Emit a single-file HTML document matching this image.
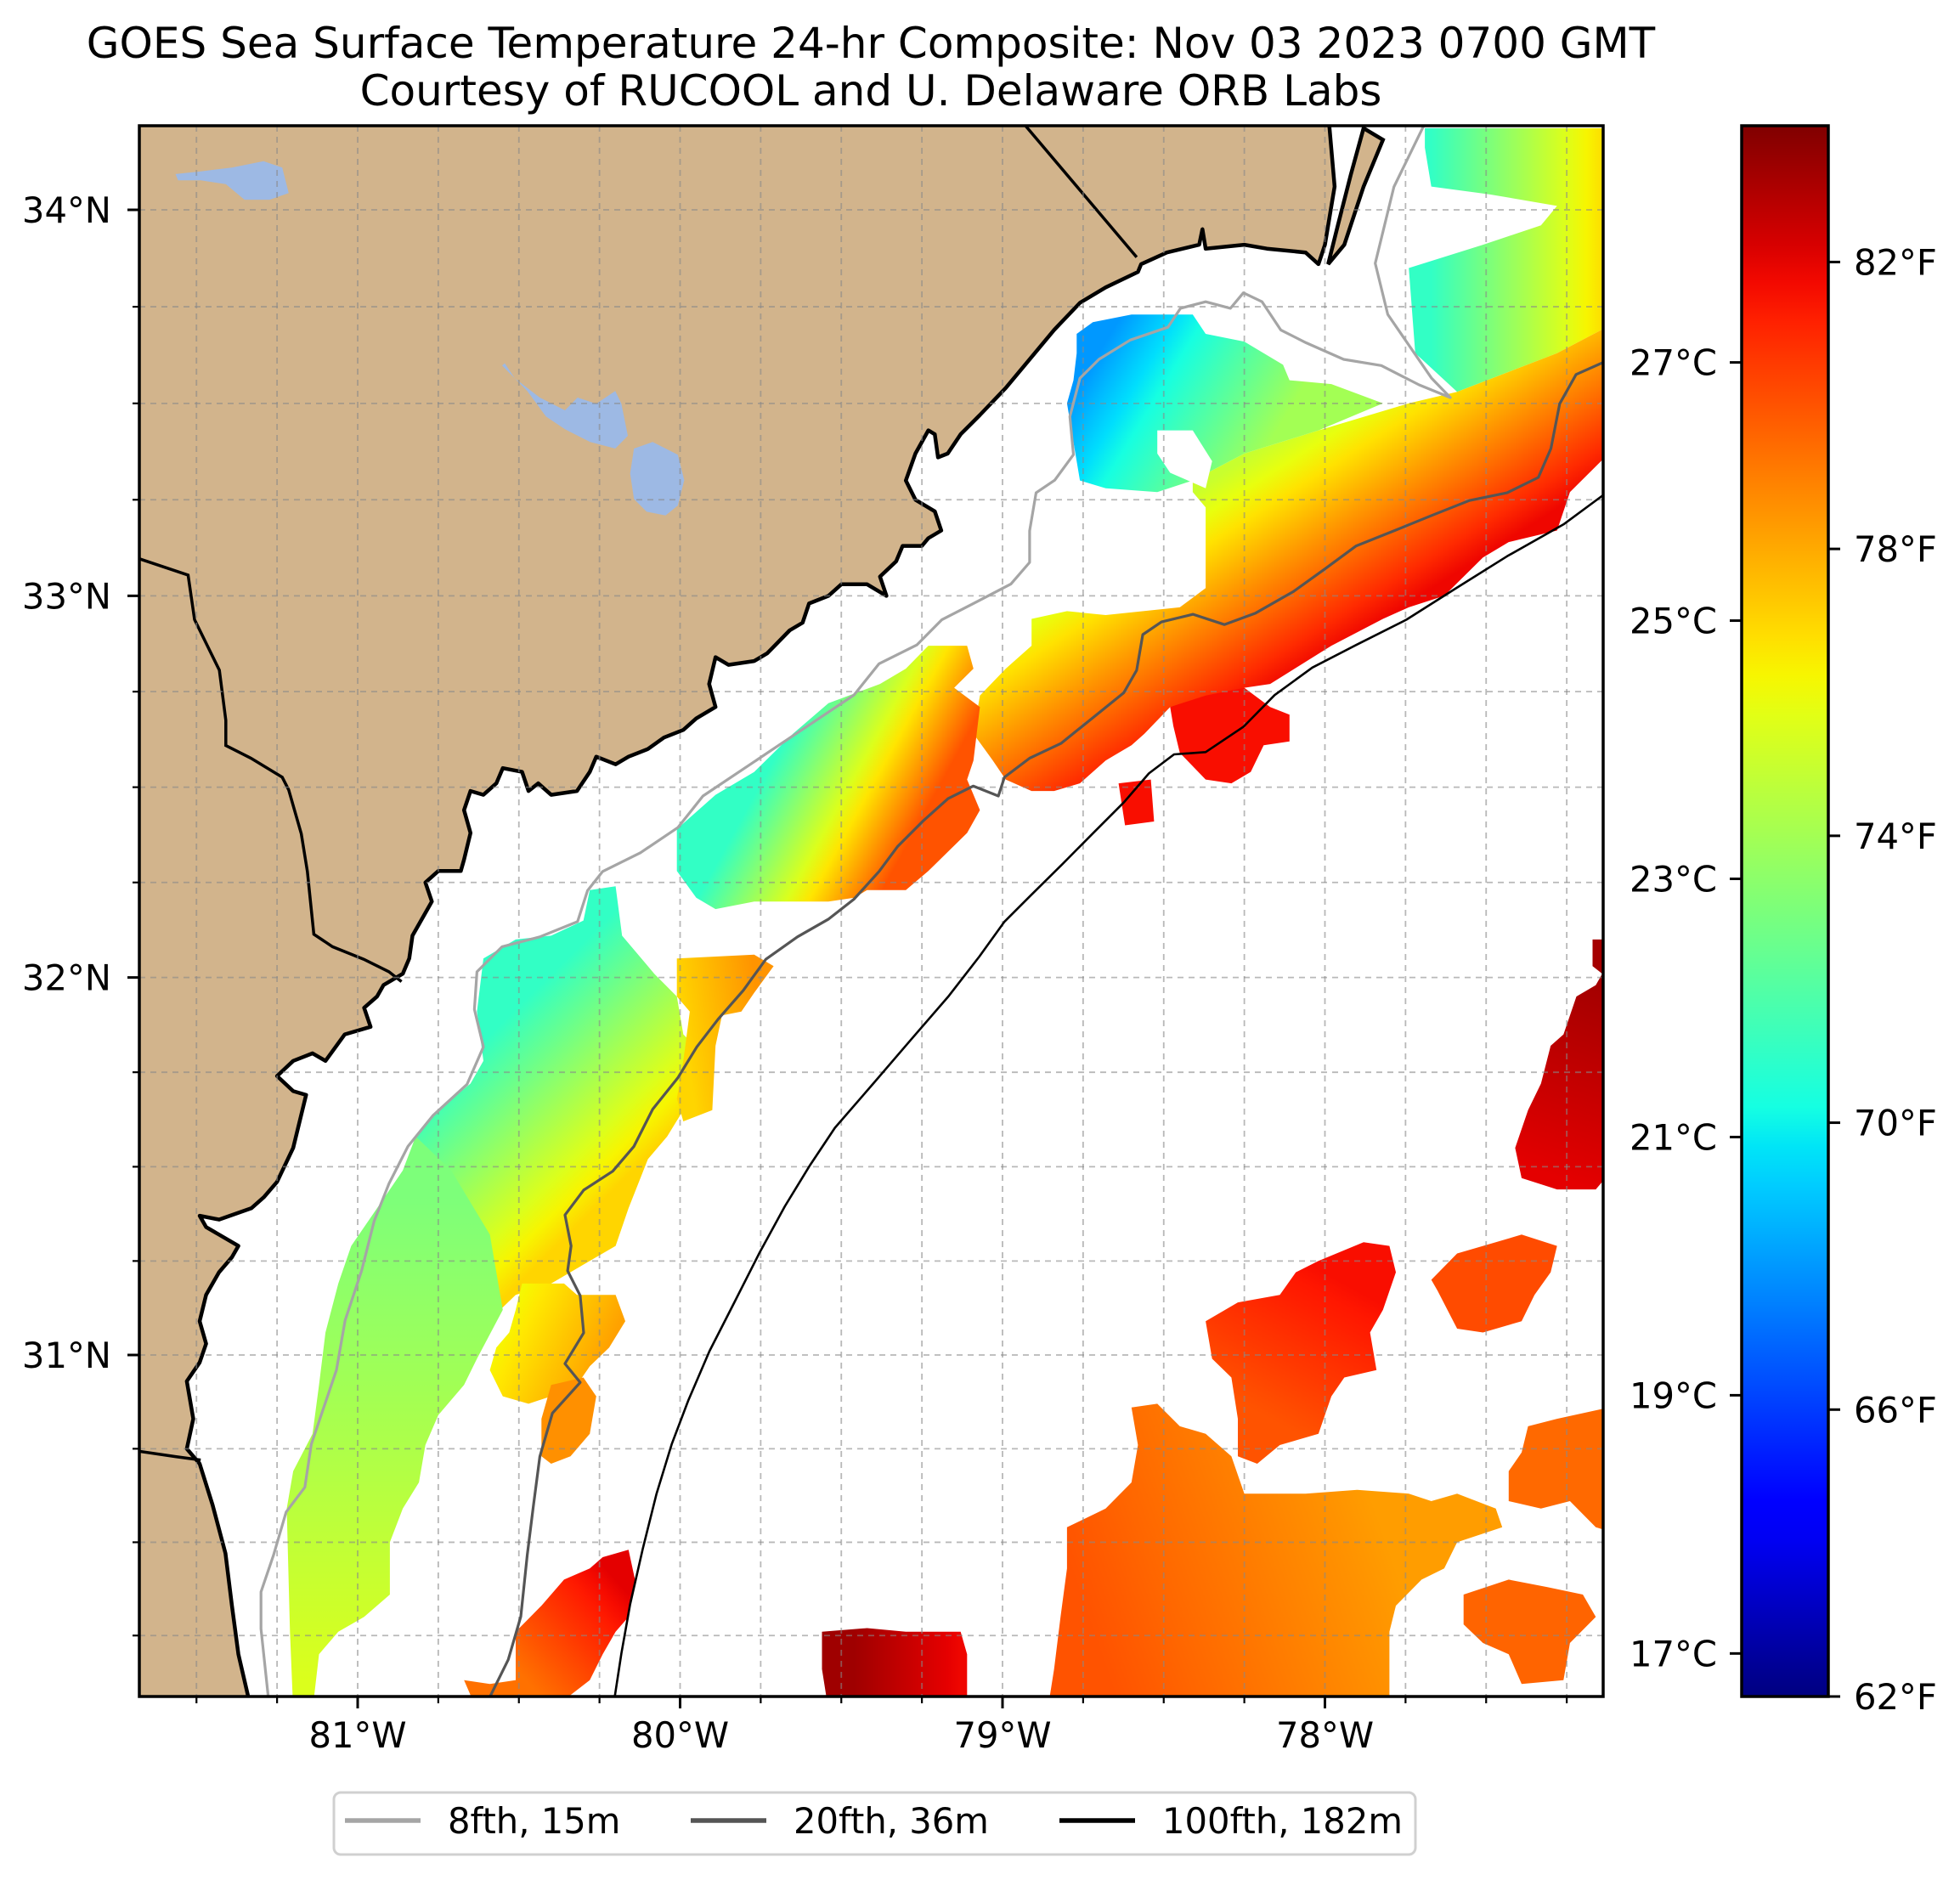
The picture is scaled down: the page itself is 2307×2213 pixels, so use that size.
<!DOCTYPE html>
<html><head><meta charset="utf-8">
<style>
html,body{margin:0;padding:0;background:#fff;}
svg{display:block;font-family:"DejaVu Sans","Liberation Sans",sans-serif;}
</style></head>
<body>
<svg id="chart" xmlns="http://www.w3.org/2000/svg" width="2307" height="2213" viewBox="0 0 2307 2213">
<rect x="0" y="0" width="2307" height="2213" fill="#fff"/>
<text x="1025" y="68" font-size="50" text-anchor="middle">GOES Sea Surface Temperature 24-hr Composite: Nov 03 2023 0700 GMT</text>
<text x="1025" y="124" font-size="50" text-anchor="middle">Courtesy of RUCOOL and U. Delaware ORB Labs</text>
<defs id="defs"><clipPath id="mapclip"><rect x="164" y="148" width="1723" height="1849"/></clipPath></defs>
<g id="map" clip-path="url(#mapclip)"></g>
<g id="axes"></g>
<g id="cbar"></g>
<g id="legend"></g>
</svg>
<script>
// ---------- data ----------
const lonTicks = [-81, -80, -79, -78];
const latTicks = [31, 32, 33, 34];
const fTicks = [62, 66, 70, 74, 78, 82];
const cTicks = [17, 19, 21, 23, 25, 27];
const cbarMinF = 62, cbarMaxF = 83.9;

const coast = [[-81.70,34.25],[-77.99,34.25],[-77.97,34.06],[-78.00,33.91],[-78.02,33.86],[-78.06,33.89],[-78.18,33.90],[-78.25,33.91],[-78.37,33.90],[-78.38,33.95],[-78.39,33.91],[-78.49,33.89],[-78.57,33.86],[-78.58,33.84],[-78.68,33.80],[-78.76,33.76],[-78.84,33.69],[-78.92,33.61],[-78.99,33.54],[-79.07,33.47],[-79.13,33.42],[-79.17,33.37],[-79.20,33.36],[-79.21,33.42],[-79.23,33.43],[-79.27,33.37],[-79.30,33.30],[-79.27,33.25],[-79.21,33.22],[-79.19,33.17],[-79.23,33.15],[-79.25,33.13],[-79.31,33.13],[-79.33,33.09],[-79.38,33.05],[-79.36,33.00],[-79.42,33.03],[-79.50,33.03],[-79.54,33.00],[-79.60,32.98],[-79.62,32.93],[-79.66,32.91],[-79.73,32.85],[-79.77,32.83],[-79.85,32.82],[-79.89,32.84],[-79.91,32.77],[-79.89,32.71],[-79.95,32.68],[-79.99,32.65],[-80.05,32.63],[-80.10,32.60],[-80.16,32.58],[-80.20,32.56],[-80.26,32.58],[-80.28,32.54],[-80.32,32.49],[-80.40,32.48],[-80.44,32.51],[-80.47,32.49],[-80.49,32.54],[-80.55,32.55],[-80.57,32.51],[-80.61,32.48],[-80.65,32.49],[-80.67,32.44],[-80.65,32.38],[-80.67,32.31],[-80.68,32.28],[-80.75,32.28],[-80.79,32.25],[-80.77,32.20],[-80.83,32.11],[-80.84,32.05],[-80.86,32.01],[-80.92,31.98],[-80.94,31.95],[-80.98,31.92],[-80.96,31.87],[-81.04,31.85],[-81.10,31.78],[-81.14,31.80],[-81.20,31.78],[-81.25,31.74],[-81.20,31.70],[-81.16,31.69],[-81.18,31.62],[-81.20,31.55],[-81.25,31.46],[-81.29,31.42],[-81.33,31.39],[-81.43,31.36],[-81.49,31.37],[-81.47,31.34],[-81.37,31.29],[-81.39,31.26],[-81.43,31.22],[-81.47,31.16],[-81.49,31.09],[-81.47,31.03],[-81.49,30.98],[-81.53,30.93],[-81.51,30.83],[-81.53,30.75],[-81.49,30.71],[-81.45,30.60],[-81.41,30.47],[-81.39,30.33],[-81.37,30.20],[-81.33,30.05],[-81.70,30.05]];
const barrierIsland = [[-77.88,34.21],[-77.92,34.09],[-77.96,33.96],[-77.99,33.86],[-77.94,33.91],[-77.88,34.06],[-77.82,34.18]];
const lakes = [
 [[-80.552,33.598],[-80.474,33.532],[-80.416,33.466],[-80.357,33.433],[-80.279,33.400],[-80.201,33.383],[-80.162,33.416],[-80.182,33.499],[-80.201,33.532],[-80.260,33.499],[-80.318,33.515],[-80.357,33.482],[-80.435,33.515],[-80.513,33.565],[-80.544,33.604]],
 [[-80.143,33.383],[-80.085,33.400],[-80.007,33.367],[-79.987,33.301],[-80.007,33.235],[-80.045,33.209],[-80.104,33.219],[-80.143,33.252],[-80.155,33.318]],
 [[-81.565,34.092],[-81.487,34.099],[-81.390,34.109],[-81.292,34.125],[-81.234,34.109],[-81.214,34.043],[-81.273,34.026],[-81.351,34.026],[-81.409,34.066],[-81.487,34.076],[-81.557,34.076]]
];
const borderNCSC = [[-78.963,34.25],[-78.584,33.878]];
const borderSCGA = [[-81.70,33.103],[-81.526,33.054],[-81.506,32.938],[-81.429,32.806],[-81.409,32.675],[-81.409,32.609],[-81.331,32.576],[-81.234,32.526],[-81.214,32.493],[-81.175,32.378],[-81.156,32.279],[-81.136,32.114],[-81.078,32.081],[-80.981,32.048],[-80.903,32.015],[-80.864,31.989]];
const borderGAFL = [[-81.70,30.746],[-81.565,30.729],[-81.487,30.72]];

const iso8 = [[-77.689,34.224],[-77.786,34.059],[-77.844,33.862],[-77.805,33.730],[-77.669,33.565],[-77.611,33.515],[-77.708,33.548],[-77.825,33.598],[-77.942,33.614],[-78.059,33.657],[-78.137,33.690],[-78.195,33.763],[-78.253,33.786],[-78.293,33.746],[-78.370,33.763],[-78.448,33.746],[-78.487,33.697],[-78.604,33.664],[-78.701,33.614],[-78.760,33.565],[-78.791,33.466],[-78.780,33.367],[-78.838,33.301],[-78.896,33.268],[-78.916,33.169],[-78.916,33.087],[-78.974,33.031],[-79.072,32.988],[-79.188,32.938],[-79.266,32.872],[-79.383,32.823],[-79.461,32.741],[-79.578,32.675],[-79.695,32.609],[-79.812,32.543],[-79.929,32.477],[-80.007,32.394],[-80.123,32.328],[-80.240,32.279],[-80.287,32.229],[-80.318,32.147],[-80.435,32.107],[-80.552,32.081],[-80.630,32.015],[-80.638,31.916],[-80.610,31.817],[-80.661,31.718],[-80.766,31.636],[-80.844,31.554],[-80.903,31.455],[-80.949,31.356],[-80.988,31.224],[-81.039,31.092],[-81.066,30.960],[-81.105,30.861],[-81.144,30.762],[-81.164,30.647],[-81.222,30.581],[-81.261,30.466],[-81.300,30.367],[-81.300,30.268],[-81.273,30.05]];
const iso20 = [[-77.116,33.614],[-77.221,33.575],[-77.272,33.499],[-77.299,33.383],[-77.338,33.308],[-77.435,33.268],[-77.552,33.248],[-77.669,33.209],[-77.786,33.169],[-77.903,33.130],[-78.0,33.070],[-78.098,33.011],[-78.215,32.955],[-78.312,32.925],[-78.409,32.952],[-78.507,32.932],[-78.565,32.899],[-78.584,32.806],[-78.624,32.747],[-78.721,32.681],[-78.818,32.615],[-78.916,32.576],[-78.994,32.526],[-79.013,32.477],[-79.091,32.503],[-79.169,32.470],[-79.247,32.411],[-79.325,32.345],[-79.383,32.279],[-79.461,32.206],[-79.539,32.154],[-79.636,32.107],[-79.734,32.048],[-79.804,31.966],[-79.882,31.890],[-79.948,31.817],[-80.007,31.735],[-80.085,31.652],[-80.143,31.554],[-80.209,31.488],[-80.299,31.438],[-80.357,31.372],[-80.338,31.290],[-80.349,31.224],[-80.310,31.158],[-80.299,31.059],[-80.357,30.977],[-80.310,30.927],[-80.396,30.845],[-80.435,30.729],[-80.455,30.597],[-80.474,30.466],[-80.494,30.301],[-80.533,30.185],[-80.610,30.05]];
const iso100 = [[-77.116,33.275],[-77.260,33.186],[-77.435,33.103],[-77.591,33.021],[-77.747,32.938],[-77.903,32.872],[-78.039,32.813],[-78.156,32.741],[-78.253,32.658],[-78.370,32.592],[-78.468,32.586],[-78.546,32.536],[-78.624,32.460],[-78.721,32.378],[-78.818,32.295],[-78.916,32.213],[-78.994,32.147],[-79.072,32.055],[-79.169,31.949],[-79.286,31.834],[-79.403,31.718],[-79.520,31.603],[-79.597,31.504],[-79.675,31.395],[-79.753,31.273],[-79.831,31.141],[-79.909,31.010],[-79.975,30.878],[-80.026,30.762],[-80.073,30.630],[-80.116,30.482],[-80.155,30.334],[-80.182,30.202],[-80.209,30.05]];

const patchNames = ['ne-top','main-band','cool-pool','cool-gap','mid-band','ga-upper','ga-lower','orange-32n','yellow-31n','orange-31n','red-sw','darkred-bottom','orange-se','orange-east-a','orange-east-b','red-east','orange-red-east','darkred-right','red-shelf-a','red-shelf-b'];
const patchOutlines = [
 [[-77.69,34.21],[-77.12,34.21],[-77.12,33.70],[-77.28,33.63],[-77.59,33.53],[-77.72,33.63],[-77.74,33.85],[-77.51,33.91],[-77.33,33.96],[-77.28,34.01],[-77.49,34.04],[-77.67,34.06],[-77.69,34.16]],
 [[-77.12,33.70],[-77.12,33.37],[-77.24,33.27],[-77.28,33.17],[-77.43,33.14],[-77.51,33.10],[-77.63,33.00],[-77.74,32.97],[-77.82,32.94],[-77.98,32.87],[-78.17,32.77],[-78.25,32.76],[-78.37,32.72],[-78.48,32.71],[-78.56,32.64],[-78.60,32.61],[-78.68,32.57],[-78.76,32.51],[-78.84,32.49],[-78.91,32.49],[-78.99,32.52],[-79.03,32.57],[-79.09,32.64],[-79.07,32.74],[-78.99,32.81],[-78.91,32.87],[-78.91,32.94],[-78.80,32.96],[-78.68,32.95],[-78.45,32.97],[-78.37,33.02],[-78.37,33.23],[-78.41,33.27],[-78.41,33.30],[-78.25,33.37],[-78.02,33.43],[-77.74,33.50],[-77.59,33.53],[-77.28,33.63]],
 [[-78.77,33.68],[-78.72,33.71],[-78.60,33.73],[-78.41,33.73],[-78.37,33.68],[-78.25,33.66],[-78.19,33.63],[-78.13,33.60],[-78.11,33.56],[-77.98,33.55],[-77.82,33.50],[-78.02,33.43],[-78.25,33.37],[-78.41,33.30],[-78.52,33.27],[-78.68,33.28],[-78.76,33.30],[-78.78,33.40],[-78.80,33.50],[-78.78,33.56],[-78.77,33.63]],
 [[-78.52,33.43],[-78.41,33.43],[-78.35,33.35],[-78.37,33.28],[-78.48,33.32],[-78.52,33.37]],
 [[-80.01,32.39],[-79.89,32.48],[-79.77,32.54],[-79.65,32.64],[-79.54,32.72],[-79.38,32.77],[-79.30,32.81],[-79.23,32.87],[-79.11,32.87],[-79.09,32.81],[-79.15,32.76],[-79.07,32.71],[-79.09,32.57],[-79.11,32.52],[-79.07,32.44],[-79.11,32.38],[-79.23,32.28],[-79.30,32.23],[-79.42,32.23],[-79.46,32.21],[-79.54,32.20],[-79.77,32.20],[-79.89,32.18],[-79.95,32.21],[-80.01,32.28]],
 [[-80.61,32.05],[-80.51,32.10],[-80.40,32.11],[-80.30,32.15],[-80.28,32.23],[-80.20,32.24],[-80.18,32.11],[-80.08,32.01],[-80.01,31.95],[-79.99,31.85],[-79.93,31.80],[-79.91,31.68],[-79.99,31.65],[-80.04,31.58],[-80.10,31.52],[-80.16,31.39],[-80.20,31.29],[-80.28,31.25],[-80.40,31.19],[-80.51,31.16],[-80.57,31.11],[-80.65,31.12],[-80.82,31.25],[-80.86,31.39],[-80.82,31.58],[-80.75,31.65],[-80.65,31.72],[-80.61,31.78],[-80.63,31.91]],
 [[-80.82,31.58],[-80.71,31.49],[-80.59,31.32],[-80.55,31.12],[-80.63,30.99],[-80.67,30.92],[-80.75,30.84],[-80.79,30.76],[-80.81,30.66],[-80.86,30.59],[-80.90,30.50],[-80.90,30.36],[-80.98,30.30],[-81.06,30.26],[-81.12,30.20],[-81.14,30.05],[-81.20,30.05],[-81.21,30.26],[-81.22,30.59],[-81.20,30.69],[-81.14,30.79],[-81.12,30.92],[-81.10,31.06],[-81.06,31.19],[-81.02,31.29],[-80.94,31.39],[-80.86,31.49]],
 [[-80.01,32.05],[-79.77,32.06],[-79.71,32.03],[-79.77,31.96],[-79.81,31.91],[-79.87,31.90],[-79.89,31.82],[-79.90,31.65],[-79.99,31.62],[-80.01,31.68],[-79.99,31.78],[-79.97,31.91],[-80.01,31.95]],
 [[-80.49,31.19],[-80.36,31.19],[-80.32,31.16],[-80.20,31.16],[-80.17,31.09],[-80.22,31.02],[-80.28,30.97],[-80.32,30.92],[-80.40,30.89],[-80.47,30.87],[-80.55,30.89],[-80.59,30.96],[-80.57,31.02],[-80.53,31.06],[-80.51,31.12]],
 [[-80.40,30.92],[-80.30,30.94],[-80.26,30.89],[-80.28,30.79],[-80.34,30.73],[-80.40,30.71],[-80.43,30.73],[-80.43,30.83]],
 [[-80.24,30.46],[-80.16,30.48],[-80.14,30.40],[-80.16,30.30],[-80.20,30.26],[-80.24,30.20],[-80.28,30.13],[-80.40,30.05],[-80.63,30.05],[-80.67,30.13],[-80.59,30.12],[-80.51,30.13],[-80.51,30.26],[-80.43,30.33],[-80.36,30.40],[-80.28,30.43]],
 [[-79.56,30.26],[-79.42,30.27],[-79.30,30.26],[-79.23,30.26],[-79.13,30.26],[-79.11,30.20],[-79.11,30.05],[-79.54,30.05],[-79.56,30.16]],
 [[-78.60,30.86],[-78.52,30.87],[-78.45,30.81],[-78.37,30.79],[-78.29,30.73],[-78.25,30.63],[-78.06,30.63],[-77.90,30.64],[-77.74,30.63],[-77.67,30.61],[-77.59,30.63],[-77.47,30.59],[-77.45,30.54],[-77.59,30.50],[-77.63,30.43],[-77.70,30.40],[-77.78,30.33],[-77.80,30.26],[-77.80,30.05],[-78.86,30.05],[-78.84,30.16],[-78.82,30.30],[-78.80,30.43],[-78.80,30.54],[-78.68,30.59],[-78.60,30.66],[-78.58,30.76]],
 [[-77.37,30.81],[-77.28,30.83],[-77.12,30.86],[-77.12,30.53],[-77.16,30.54],[-77.24,30.61],[-77.33,30.59],[-77.43,30.61],[-77.43,30.69],[-77.39,30.74]],
 [[-77.57,30.36],[-77.43,30.40],[-77.31,30.38],[-77.20,30.36],[-77.16,30.30],[-77.24,30.23],[-77.26,30.13],[-77.39,30.12],[-77.43,30.20],[-77.51,30.23],[-77.57,30.28]],
 [[-78.02,31.25],[-77.88,31.30],[-77.80,31.29],[-77.78,31.22],[-77.82,31.12],[-77.86,31.06],[-77.84,30.96],[-77.94,30.94],[-77.98,30.89],[-78.02,30.79],[-78.14,30.76],[-78.21,30.71],[-78.27,30.73],[-78.27,30.83],[-78.29,30.94],[-78.35,30.99],[-78.37,31.09],[-78.27,31.14],[-78.14,31.16],[-78.09,31.22]],
 [[-77.59,31.27],[-77.47,31.30],[-77.39,31.32],[-77.28,31.29],[-77.30,31.22],[-77.35,31.16],[-77.39,31.09],[-77.51,31.06],[-77.59,31.07],[-77.65,31.17],[-77.67,31.20]],
 [[-77.17,32.10],[-77.11,32.10],[-77.11,31.49],[-77.16,31.44],[-77.28,31.44],[-77.39,31.47],[-77.41,31.55],[-77.37,31.65],[-77.33,31.72],[-77.30,31.82],[-77.26,31.85],[-77.22,31.95],[-77.16,31.98],[-77.14,32.01],[-77.17,32.03]],
 [[-78.48,32.71],[-78.37,32.74],[-78.25,32.76],[-78.17,32.71],[-78.11,32.69],[-78.11,32.62],[-78.19,32.61],[-78.23,32.54],[-78.29,32.51],[-78.37,32.52],[-78.45,32.59],[-78.47,32.66]],
 [[-78.64,32.51],[-78.54,32.52],[-78.53,32.41],[-78.62,32.40]]
];
const patchGradStart = [[-77.67,34.13],[-77.98,33.50],[-78.68,33.66],null,[-79.77,32.48],[-80.47,31.95],[-80.94,31.42],[-80.01,31.98],[-80.55,31.12],[-80.40,30.92],[-80.51,30.16],[-79.46,30.20],[-78.72,30.26],[-77.37,30.81],[-77.57,30.36],[-77.94,31.19],[-77.59,31.27],[-77.16,31.98],[-78.48,32.71],[-78.64,32.51]];
const patchGradEnd = [[-77.12,34.13],[-77.63,33.04],[-78.17,33.40],null,[-79.34,32.28],[-80.04,31.58],[-80.94,30.13],[-79.77,32.01],[-80.24,30.99],[-80.28,30.79],[-80.20,30.40],[-79.13,30.20],[-77.82,30.53],[-77.12,30.53],[-77.20,30.13],[-78.17,30.83],[-77.30,31.10],[-77.35,31.49],[-78.11,32.62],[-78.53,32.41]];
const patchTempStart = [71, 75, 68, null, 71, 71, 73, 77, 76, 78.6, 79.3, 83.3, 80, 79.5, 79.6, 81.6, 80.2, 83.2, 81.6, 81.6];
const patchTempEnd   = [77, 81.8, 74, null, 80, 77, 75.5, 78.5, 78.2, 78.6, 82, 81.8, 78.3, 79.5, 79.6, 80, 80.2, 82, 81.6, 81.6];

// ---------- axis functions ----------
const MAP = {x0:164, x1:1887, y0:148, y1:1997};
const lonRef = -81, xRef = 421, pxPerDeg = 379.5;
function merc(lat){ return Math.log(Math.tan(Math.PI/4 + lat*Math.PI/360)); }
const yAt34 = 247, yAt31 = 1595;
const mercK = (yAt31 - yAt34) / (merc(34) - merc(31));
function xOf(lon){ return xRef + (lon - lonRef) * pxPerDeg; }
function yOf(lat){ return yAt34 + (merc(34) - merc(lat)) * mercK; }
const CB = {x0:2050, x1:2152, y0:148, y1:1997};
function yOfF(f){ return CB.y1 - (f - cbarMinF) / (cbarMaxF - cbarMinF) * (CB.y1 - CB.y0); }
function jet(t){
  t = Math.max(0, Math.min(1, t));
  function seg(pts){ for(let i=1;i<pts.length;i++){ if(t<=pts[i][0]){ const a=pts[i-1],b=pts[i]; const u=(t-a[0])/(b[0]-a[0]||1); return a[1]+(b[1]-a[1])*u; } } return pts[pts.length-1][1]; }
  const r=seg([[0,0],[0.35,0],[0.66,1],[0.89,1],[1,0.5]]);
  const g=seg([[0,0],[0.125,0],[0.375,1],[0.64,1],[0.91,0],[1,0]]);
  const b=seg([[0,0.5],[0.11,1],[0.34,1],[0.65,0],[1,0]]);
  return 'rgb('+Math.round(r*255)+','+Math.round(g*255)+','+Math.round(b*255)+')';
}
function colorF(f){ return jet((f - cbarMinF) / (cbarMaxF - cbarMinF)); }

const NS = 'http://www.w3.org/2000/svg';
function mk(tag, attrs, parent){ const e=document.createElementNS(NS, tag); for(const k in attrs) e.setAttribute(k, attrs[k]); parent.appendChild(e); return e; }
function pts(arr){ return arr.map(p => xOf(p[0]).toFixed(1)+','+yOf(p[1]).toFixed(1)).join(' '); }

const map = document.getElementById('map');
const defs = document.getElementById('defs');

const land = mk('polygon', {points: pts(coast), fill:'#d2b48c', stroke:'#000', 'stroke-width':4.5, 'stroke-linejoin':'round'}, map);


const isl = mk('polygon', {points: pts(barrierIsland), fill:'#d2b48c', stroke:'#000', 'stroke-width':4.5}, map);


lakes.forEach((lk, i) => {
  const l = mk('polygon', {points: pts(lk), fill:'#9db9e4'}, map);
  
  
});
[borderNCSC, borderSCGA, borderGAFL].forEach((bd, i) => {
  const b = mk('polyline', {points: pts(bd), fill:'none', stroke:'#000', 'stroke-width':3.5}, map);
  
  
});

patchOutlines.forEach((outline, i) => {
  let fill = '#fff';
  if (patchTempStart[i] !== null) {
    const gid = 'g' + i;
    const s = patchGradStart[i], e = patchGradEnd[i];
    const lg = mk('linearGradient', {id: gid, gradientUnits:'userSpaceOnUse', x1:xOf(s[0]), y1:yOf(s[1]), x2:xOf(e[0]), y2:yOf(e[1])}, defs);
    for (let k = 0; k <= 8; k++) {
      const f = patchTempStart[i] + (patchTempEnd[i] - patchTempStart[i]) * k / 8;
      mk('stop', {offset: (k/8).toFixed(3), 'stop-color': colorF(f)}, lg);
    }
    fill = 'url(#' + gid + ')';
  }
  const p = mk('polygon', {points: pts(outline), fill: fill}, map);
  
  
});

for (let lon = -81.5; lon <= -77.2; lon += 0.25) {
  const g = mk('line', {x1:xOf(lon), x2:xOf(lon), y1:MAP.y0, y2:MAP.y1, stroke:'#888', 'stroke-opacity':0.6, 'stroke-width':1.8, 'stroke-dasharray':'7,6'}, map);
  
  
}
for (let lat = 30.25; lat <= 34.2; lat += 0.25) {
  const g = mk('line', {x1:MAP.x0, x2:MAP.x1, y1:yOf(lat), y2:yOf(lat), stroke:'#888', 'stroke-opacity':0.6, 'stroke-width':1.8, 'stroke-dasharray':'7,6'}, map);
  
  
}

const c8 = mk('polyline', {points: pts(iso8), fill:'none', stroke:'#a5a5a5', 'stroke-width':3.2, 'stroke-linejoin':'round'}, map);


const c20 = mk('polyline', {points: pts(iso20), fill:'none', stroke:'#555', 'stroke-width':3.2, 'stroke-linejoin':'round'}, map);


const c100 = mk('polyline', {points: pts(iso100), fill:'none', stroke:'#000', 'stroke-width':2.6, 'stroke-linejoin':'round'}, map);



const axes = document.getElementById('axes');
const frame = mk('rect', {x:MAP.x0, y:MAP.y0, width:MAP.x1-MAP.x0, height:MAP.y1-MAP.y0, fill:'none', stroke:'#000', 'stroke-width':3.5}, axes);


for (let lon = -81.5; lon <= -77.2; lon += 0.25) {
  const major = Math.abs(lon - Math.round(lon)) < 1e-6;
  const t = mk('line', {x1:xOf(lon), x2:xOf(lon), y1:MAP.y1, y2:MAP.y1 + (major?14:8), stroke:'#000', 'stroke-width':major?3:2.2}, axes);
  
  
}
lonTicks.forEach(lon => {
  const t = mk('text', {x:xOf(lon), y:2057, 'font-size':41.7, 'text-anchor':'middle'}, axes);
  t.textContent = Math.abs(lon) + '°W';
  
  
});
for (let lat = 30.25; lat <= 34.2; lat += 0.25) {
  const major = Math.abs(lat - Math.round(lat)) < 1e-6;
  const t = mk('line', {x1:MAP.x0 - (major?14:8), x2:MAP.x0, y1:yOf(lat), y2:yOf(lat), stroke:'#000', 'stroke-width':major?3:2.2}, axes);
  
  
}
latTicks.forEach(lat => {
  const t = mk('text', {x:131, y:yOf(lat)+15, 'font-size':41.7, 'text-anchor':'end'}, axes);
  t.textContent = lat + '°N';
  
  
});

const cbar = document.getElementById('cbar');
const cg = mk('linearGradient', {id:'cbgrad', x1:0, y1:1, x2:0, y2:0}, defs);
for (let k = 0; k <= 40; k++) mk('stop', {offset:(k/40).toFixed(3), 'stop-color': jet(k/40)}, cg);
const cbr = mk('rect', {x:CB.x0, y:CB.y0, width:CB.x1-CB.x0, height:CB.y1-CB.y0, fill:'url(#cbgrad)', stroke:'#000', 'stroke-width':3.5}, cbar);


fTicks.forEach(f => {
  const y = yOfF(f);
  const t = mk('line', {x1:CB.x1, x2:CB.x1+14, y1:y, y2:y, stroke:'#000', 'stroke-width':3}, cbar);
  
  
  const l = mk('text', {x:2182, y:y+15, 'font-size':41.7}, cbar);
  l.textContent = f + '°F';
  
  
});
cTicks.forEach(c => {
  const y = yOfF(c*9/5 + 32);
  const t = mk('line', {x1:CB.x0-14, x2:CB.x0, y1:y, y2:y, stroke:'#000', 'stroke-width':3}, cbar);
  
  
  const l = mk('text', {x:2021, y:y+15, 'font-size':41.7, 'text-anchor':'end'}, cbar);
  l.textContent = c + '°C';
  
  
});

const legend = document.getElementById('legend');
const lb = mk('rect', {x:393, y:2110, width:1273, height:73, rx:8, fill:'#fff', stroke:'#d0d0d0', 'stroke-width':3}, legend);


const legendLabels = ['8fth, 15m', '20fth, 36m', '100fth, 182m'];
const legendColors = ['#a5a5a5', '#555', '#000'];
const legendX = [406, 813, 1247];
legendLabels.forEach((lab, i) => {
  const ln = mk('line', {x1:legendX[i], x2:legendX[i]+89, y1:2143, y2:2143, stroke:legendColors[i], 'stroke-width':5.5}, legend);
  
  
  const tx = mk('text', {x:legendX[i]+121, y:2158, 'font-size':41.7}, legend);
  tx.textContent = lab;
  
  
});
</script>
</body></html>
